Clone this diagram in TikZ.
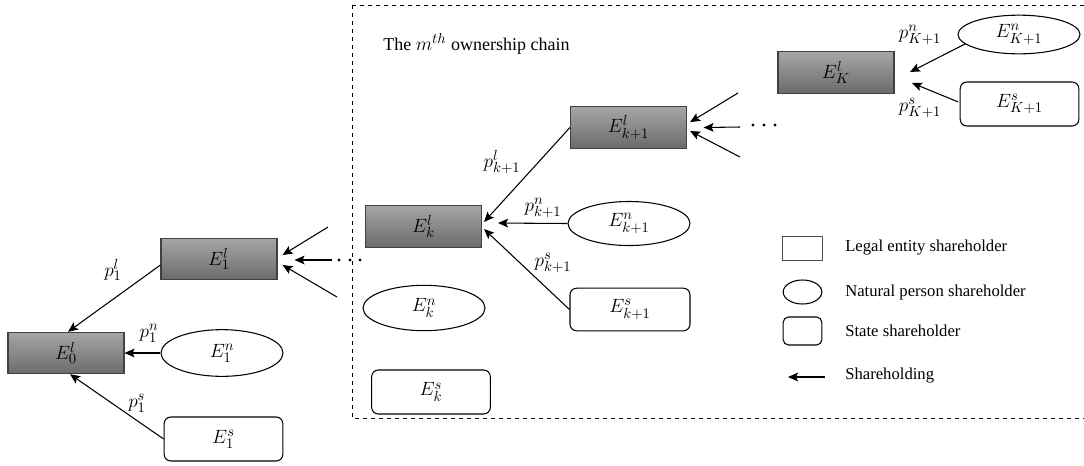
\documentclass[tikz,border=0pt]{standalone}
\usepackage{fontspec}
\setmainfont{Liberation Serif}
\usetikzlibrary{arrows.meta,shapes.geometric}
\begin{document}
\begin{tikzpicture}[x=0.75pt,y=-0.75pt,
  every node/.style={font=\fontsize{15pt}{17pt}\selectfont, inner sep=0pt},
  legal/.style={rectangle, draw=black!75, line width=0.8pt, top color=black!35, bottom color=black!58, minimum width=87pt, minimum height=31pt},
  natural/.style={ellipse, draw, line width=0.8pt, minimum width=91.5pt, minimum height=35pt},
  statebox/.style={rectangle, rounded corners=5pt, draw, line width=0.8pt, minimum width=89pt, minimum height=33pt},
  hold/.style={-{Stealth[length=7.5pt,width=6.5pt,inset=1.5pt]}, line width=0.8pt},
  lbl/.style={font=\fontsize{15pt}{17pt}\selectfont},
  legtext/.style={anchor=west, font=\fontsize{12.5pt}{15pt}\selectfont},
  dot/.style={circle, fill, minimum size=2.4pt}
]
\useasboundingbox (0,0) rectangle (1084,465);
% dashed frame of the m-th chain
\draw[dashed, line width=0.6pt] (352,5) -- (1090,5) (352,5) -- (352,418) -- (1090,418);
\node[anchor=west, font=\fontsize{13.5pt}{15pt}\selectfont] (title) at (383,44) {The {\fontsize{15pt}{17pt}\selectfont$m^{th}$} ownership chain};

% nodes
\node[legal] (e0l) at (66,353) {$E^{l}_{0}$};
\node[legal] (e1l) at (219,259) {$E^{l}_{1}$};
\node[natural] (e1n) at (222,353) {$E^{n}_{1}$};
\node[statebox] (e1s) at (223.5,439) {$E^{s}_{1}$};

\node[legal] (ekl) at (423.5,226.5) {$E^{l}_{k}$};
\node[natural, minimum height=34pt] (ekn) at (424,308) {$E^{n}_{k}$};
\node[statebox] (eks) at (431,392) {$E^{s}_{k}$};

\node[legal] (ek1l) at (628.5,127.5) {$E^{l}_{k+1}$};
\node[natural, minimum height=33pt] (ek1n) at (629,223.5) {$E^{n}_{k+1}$};
\node[statebox, minimum width=90pt, minimum height=32pt] (ek1s) at (630,309.5) {$E^{s}_{k+1}$};

\node[legal] (eKl) at (836,72.5) {$E^{l}_{K}$};
\node[natural, minimum height=29pt] (eK1n) at (1019,34.5) {$E^{n}_{K+1}$};
\node[statebox] (eK1s) at (1019.5,104) {$E^{s}_{K+1}$};

% connectors: first level
\draw[hold] ([yshift=-4.5pt]e1l.west) -- ([xshift=1.5pt]e0l.north);
\draw[hold] (e1n.west) -- (e0l.east);
\draw[hold] (e1s.west) -- ([xshift=3pt]e0l.south);
\node[lbl] (p1l) at (113,270) {$p^{l}_{1}$};
\node[lbl] (p1n) at (149,333) {$p^{n}_{1}$};
\node[lbl] (p1s) at (137,403) {$p^{s}_{1}$};

% incoming to E1
\coordinate (a1) at (328,227);
\coordinate (a2) at (332,260);
\coordinate (a3) at (337,297);
\draw[hold] (a1) -- ([xshift=3.75pt,yshift=3pt]e1l.east);
\draw[hold] (a2) -- ([xshift=12.75pt,yshift=-0.75pt]e1l.east);
\draw[hold] (a3) -- ([xshift=3.75pt,yshift=-4.5pt]e1l.east);
\node[dot] (d1) at (339,260) {};
\node[dot] (d2) at (350,260) {};
\node[dot] (d3) at (360,260) {};

% k-th level
\draw[hold] (ek1l.west) -- ([xshift=1.5pt,yshift=3.4pt]ekl.east);
\draw[hold] (ek1n.west) -- ([xshift=12pt,yshift=2.6pt]ekl.east);
\draw[hold] (ek1s.west) -- ([xshift=1.5pt,yshift=-1.9pt]ekl.east);
\node[lbl] (pk1l) at (502,162) {$p^{l}_{k+1}$};
\node[lbl] (pk1n) at (543,208) {$p^{n}_{k+1}$};
\node[lbl] (pk1s) at (553,263) {$p^{s}_{k+1}$};

% incoming to E_{k+1}
\coordinate (b1) at (738,93);
\coordinate (b2) at (740,127);
\coordinate (b3) at (740,157);
\draw[hold] (b1) -- ([xshift=2.25pt,yshift=4pt]ek1l.east);
\draw[hold] (b2) -- ([xshift=12.4pt]ek1l.east);
\draw[hold] (b3) -- ([xshift=2.25pt,yshift=-2.6pt]ek1l.east);
\node[dot] (d4) at (753,125) {};
\node[dot] (d5) at (764,125) {};
\node[dot] (d6) at (775,125) {};

% K-th level
\coordinate (c1) at (910,72);
\coordinate (c2) at (912,83);
\draw[hold] (eK1n.190) -- (c1);
\draw[hold] ([xshift=-1pt,yshift=1.5pt]eK1s.west) -- (c2);
\node[lbl] (pKn) at (920,35) {$p^{n}_{K+1}$};
\node[lbl] (pKs) at (920,108) {$p^{s}_{K+1}$};

% legend
\node[rectangle, draw=black!70, line width=0.6pt, minimum width=30pt, minimum height=17.5pt] (lg1) at (802,248.5) {};
\node[ellipse, draw, line width=0.8pt, minimum width=29pt, minimum height=18pt] (lg2) at (802.5,292) {};
\node[rectangle, rounded corners=4pt, draw, line width=0.8pt, minimum width=29pt, minimum height=21pt] (lg3) at (802.5,331) {};
\coordinate (lg4a) at (825,377);
\coordinate (lg4b) at (788,377);
\draw[hold] (lg4a) -- (lg4b);
\node[legtext] (t1) at (845,248) {Legal entity shareholder};
\node[legtext] (t2) at (845,292) {Natural person shareholder};
\node[legtext] (t3) at (845,331) {State shareholder};
\node[legtext] (t4) at (845,376) {Shareholding};
\end{tikzpicture}
\end{document}
